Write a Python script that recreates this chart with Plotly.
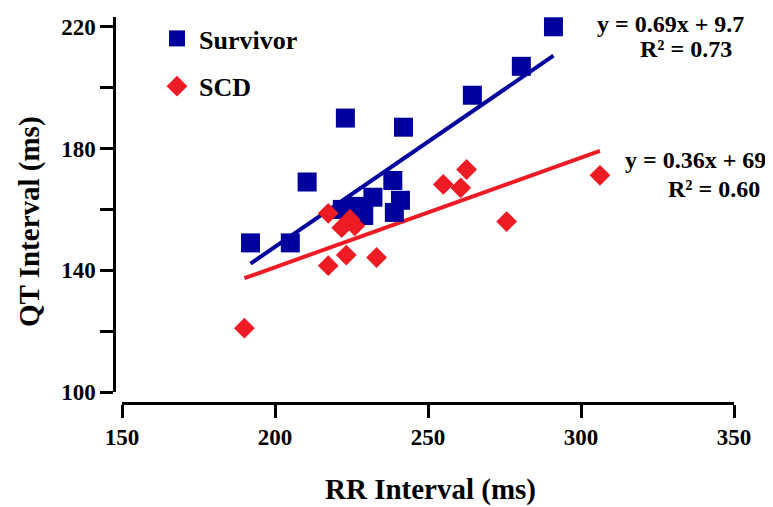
import numpy as np
import plotly.graph_objects as go

# Data
survivor_rr = [192, 205, 210.5, 223, 222, 226, 229, 232, 238.5, 241, 239, 242, 264.5, 280.5, 291]
survivor_qt = [149, 149, 169, 190, 160, 161, 158, 164, 169.5, 163, 159, 187, 197.5, 207, 220]
scd_rr = [190, 217.4, 217.4, 221.8, 224.5, 226.1, 223.3, 233.2, 255, 260.7, 262.6, 275.7, 306.2]
scd_qt = [121, 158.7, 141.5, 154, 156.8, 154.6, 145, 144.2, 168.2, 167.1, 173.1, 156, 171.2]

survivor_fit = (0.69, 9.7, 0.73)
scd_fit = (0.36, 69, 0.60)

x_ticks = [150, 200, 250, 300, 350]
y_ticks = [100, 120, 140, 160, 180, 200, 220]
y_ticklabels = ["100", "", "140", "", "180", "", "220"]

BLUE = "#00009C"
RED = "#ED1C24"
FONT = "Liberation Serif"

fig = go.Figure()

# regression lines
for xs, (m, b, _), col in [(survivor_rr, survivor_fit, BLUE), (scd_rr, scd_fit, RED)]:
    lx = np.array([min(xs), max(xs)])
    fig.add_trace(go.Scatter(x=lx, y=m * lx + b, mode="lines",
                             line=dict(color=col, width=4), showlegend=False,
                             hoverinfo="skip"))

fig.add_trace(go.Scatter(x=survivor_rr, y=survivor_qt, mode="markers", name="Survivor",
                         legendgroup="a",
                         marker=dict(symbol="square", size=19, color=BLUE, line=dict(width=0))))
fig.add_trace(go.Scatter(x=scd_rr, y=scd_qt, mode="markers", name="SCD",
                         legendgroup="b",
                         marker=dict(symbol="diamond", size=16, color=RED, line=dict(width=0))))

OFF = 8  # page body margin
W, H = 773 - OFF, 507 - OFF
# plot area in page pixels
PL, PR, PT, PB = 114, 734, 15, 403
L, R, T, B = PL - OFF, (773) - PR, PT - OFF, (507) - PB
pw, ph = PR - PL, PB - PT


def px(xp):
    return (xp - PL) / pw


def py(yp):
    return (PB - yp) / ph


ann_font = dict(family=FONT, size=24, color="black", weight="bold")
annotations = [
    dict(text=f"y = {survivor_fit[0]}x + {survivor_fit[1]}", x=px(670.5), y=py(22)),
    dict(text=f"R² = {survivor_fit[2]:.2f}", x=px(686), y=py(47)),
    dict(text=f"y = {scd_fit[0]}x + {scd_fit[1]}", x=px(695), y=py(159)),
    dict(text=f"R² = {scd_fit[2]:.2f}", x=px(713.5), y=py(188)),
]
for a in annotations:
    a.update(xref="paper", yref="paper", showarrow=False, xanchor="center",
             yanchor="middle", font=ann_font, borderpad=0)

title_font = dict(family=FONT, size=29, color="black", weight="bold")
annotations.append(dict(text="RR Interval (ms)", x=px(430), y=py(490), xref="paper",
                        yref="paper", showarrow=False, xanchor="center", yanchor="middle",
                        font=title_font))
annotations.append(dict(text="QT Interval (ms)", x=px(30), y=py(220), xref="paper",
                        yref="paper", showarrow=False, xanchor="center", yanchor="middle",
                        textangle=-90, font=title_font))

tick_font = dict(family=FONT, size=23, color="black", weight="bold")
fig.update_layout(
    width=W, height=H,
    margin=dict(l=L, r=R, t=T, b=B),
    paper_bgcolor="white", plot_bgcolor="white",
    font=dict(family=FONT, color="black"),
    annotations=annotations,
    legend=dict(x=px(155), y=py(13), xanchor="left", yanchor="top",
                font=dict(family=FONT, size=26, color="black", weight="bold"),
                itemwidth=34,
                traceorder="grouped", tracegroupgap=11, bgcolor="rgba(0,0,0,0)"),
    xaxis=dict(range=[150, 350], domain=[px(122), 1], anchor="free", position=0,
               tickvals=x_ticks, ticks="outside", ticklen=13, tickwidth=2.5,
               tickcolor="black", showline=True, linewidth=2.5, linecolor="black",
               showgrid=False, zeroline=False, tickfont=tick_font),
    yaxis=dict(range=[100, 223.2], domain=[py(392), 1], anchor="free", position=0,
               tickvals=y_ticks, ticktext=y_ticklabels, ticks="outside", ticklen=13,
               tickwidth=2.5, tickcolor="black", showline=True, linewidth=2.5,
               linecolor="black", showgrid=False, zeroline=False, tickfont=tick_font),
)

fig.write_html("out.html")
